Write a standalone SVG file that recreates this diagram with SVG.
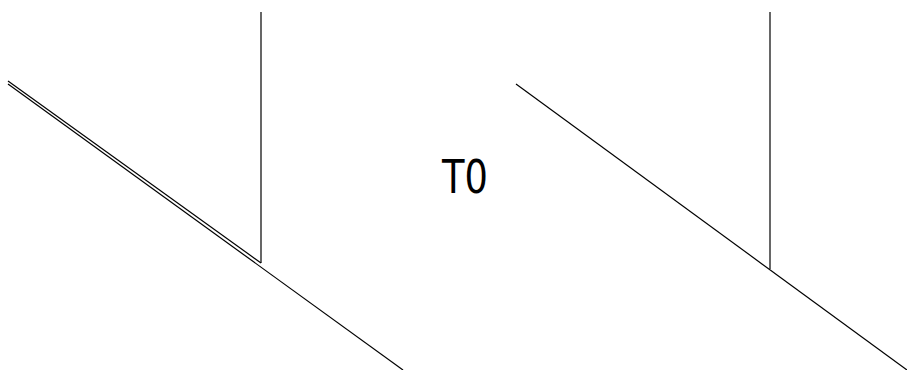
<svg xmlns="http://www.w3.org/2000/svg" width="907" height="370" viewBox="0 0 907 370">
<style>
.ln{stroke:#000;stroke-width:1.2;fill:none}
.lbl{font-family:"DejaVu Sans Condensed","DejaVu Sans",sans-serif;font-size:47px;fill:#000}
</style>
<rect width="907" height="370" fill="#fff"/>
<g id="left">
<line class="ln" x1="8" y1="81" x2="261" y2="263"/>
<line class="ln" x1="8" y1="84" x2="403" y2="370"/>
<line class="ln" x1="261" y1="12" x2="261" y2="263"/>
</g>
<g id="label">
<text class="lbl" transform="translate(442,193) scale(0.87,1)" x="0" y="0">T0</text>
</g>
<g id="right">
<line class="ln" x1="516" y1="84" x2="907" y2="370"/>
<line class="ln" x1="770" y1="12" x2="770" y2="269"/>
</g>
</svg>
